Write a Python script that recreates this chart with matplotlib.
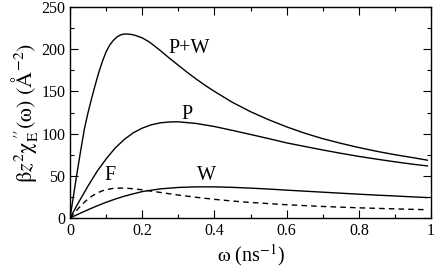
import matplotlib
matplotlib.use("Agg")
import matplotlib.pyplot as plt
from matplotlib.ticker import MultipleLocator

plt.rcParams['font.family'] = ['Liberation Serif', 'DejaVu Serif']
plt.rcParams['mathtext.fontset'] = 'stix'

# values
w_pw = [0, 0.01, 0.02, 0.03, 0.04, 0.05, 0.06, 0.07, 0.08, 0.09, 0.10, 0.11,
        0.12, 0.13, 0.14, 0.15, 0.16, 0.17, 0.18, 0.19, 0.20, 0.22, 0.25,
        0.275, 0.30, 0.325, 0.35, 0.375, 0.40, 0.45, 0.50, 0.55, 0.60, 0.65,
        0.70, 0.75, 0.80, 0.85, 0.90, 0.95, 0.99]
pw = [0, 27.5, 55, 81, 106, 125, 142, 158, 173, 186, 197, 205,
      210.5, 214.5, 217, 218, 218, 217.5, 216.5, 215, 213.5, 208.5, 198.5,
      189.5, 181, 172.5, 164.5, 157, 150, 137, 126, 116.5, 108, 100.5,
      94, 88.5, 83.5, 79, 75, 71.5, 68.5]

w_p = [0, 0.0125, 0.025, 0.05, 0.075, 0.10, 0.125, 0.15, 0.175, 0.20, 0.225,
       0.25, 0.275, 0.30, 0.35, 0.40, 0.45, 0.50, 0.55, 0.60, 0.65, 0.70,
       0.75, 0.80, 0.85, 0.90, 0.95, 0.99]
p = [0, 9.8, 19.5, 38, 55.3, 70, 82.9, 93, 100.9, 106.5, 110.4,
     112.8, 113.8, 114, 112, 108.4, 103.8, 99, 94.1, 89, 84.8, 80.6,
     76.7, 73, 69.7, 66.6, 63.7, 61.7]

w_w = [0, 0.025, 0.05, 0.075, 0.10, 0.125, 0.15, 0.175, 0.20, 0.25, 0.30,
       0.35, 0.40, 0.45, 0.50, 0.55, 0.60, 0.65, 0.70, 0.75, 0.80, 0.85,
       0.90, 0.95, 0.99]
ww = [0, 5.0, 9.8, 14.4, 18.6, 22.4, 25.8, 28.6, 31.3, 34.5, 36.2,
      36.9, 36.9, 36.3, 35.4, 34.3, 33, 31.8, 30.6, 29.4, 28.2, 27.1,
      26.1, 25.0, 24.2]

w_f = [0, 0.01, 0.02, 0.03, 0.04, 0.05, 0.06, 0.075, 0.09, 0.10, 0.12, 0.14,
       0.16, 0.18, 0.20, 0.25, 0.30, 0.35, 0.40, 0.45, 0.50, 0.60, 0.70,
       0.80, 0.90, 0.99]
ff = [0, 5.0, 9.9, 14.5, 18.8, 22.5, 25.7, 29.6, 32.3, 33.6, 35.1, 35.5,
      35.2, 34.4, 33.4, 30.3, 27.2, 24.5, 22.1, 20.1, 18.4, 15.7, 13.65,
      12.06, 10.8, 9.8]

labels = ['P+W', 'P', 'F', 'W']
label_x = [0.33, 0.323, 0.11, 0.379]
label_y = [201, 123, 50, 50]

fig = plt.figure(figsize=(4.36, 2.71), dpi=100)
ax = fig.add_axes([0.1606, 0.1956, 0.828, 0.7784])

ax.plot(w_pw, pw, color='k', lw=1.0)
ax.plot(w_p, p, color='k', lw=1.0)
ax.plot(w_w, ww, color='k', lw=1.0)
ax.plot(w_f, ff, color='k', lw=1.0, dashes=(4, 3))

for lab, x, y in zip(labels, label_x, label_y):
    ax.text(x, y, lab, fontsize=14.5, ha='center', va='center')

ax.set_xlim(0, 1)
ax.set_ylim(0, 250)
ax.xaxis.set_minor_locator(MultipleLocator(0.1))
ax.yaxis.set_major_locator(MultipleLocator(50))
ax.yaxis.set_minor_locator(MultipleLocator(25))
ax.set_xticks([0, 0.2, 0.4, 0.6, 0.8, 1.0])
ax.set_xticklabels(['0', '0.2', '0.4', '0.6', '0.8', '1'])
ax.tick_params(which='both', direction='in', top=True, right=True, labelsize=11.5)
ax.tick_params(which='major', length=6, width=0.8)
ax.tick_params(which='minor', length=3, width=0.8)
for s in ax.spines.values():
    s.set_linewidth(1.0)

ax.set_xlabel(r'$\mathrm{\omega}$ (ns$^{-1}$)', fontsize=14.5, labelpad=2)
ax.set_ylabel(r'$\mathrm{\beta} z^{2}\mathrm{\chi}_{\mathrm{E}}^{\;\prime\prime}(\mathrm{\omega})\ (\mathrm{\AA}^{-2})$',
              fontsize=16, labelpad=1)

fig.savefig('out.png', dpi=100)
